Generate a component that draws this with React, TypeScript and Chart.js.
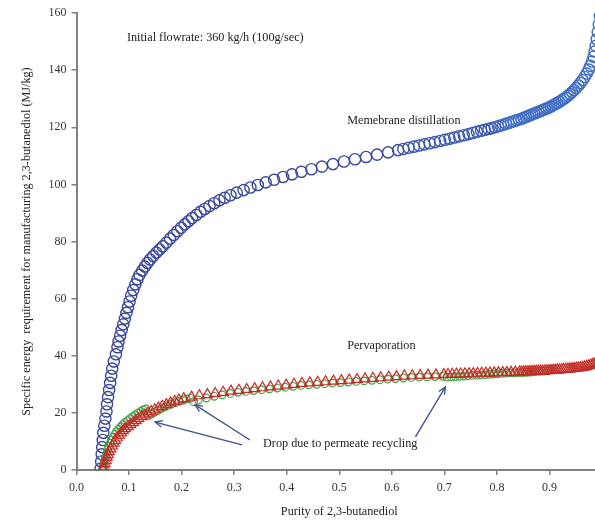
import { useEffect, useRef } from "react";
import { Chart, registerables } from "chart.js";

Chart.register(...registerables);

// Membrane distillation (blue circles)
const mdPurity = [
  0.046, 0.047, 0.048, 0.049, 0.05, 0.051, 0.053, 0.055, 0.057, 0.058, 0.06, 0.062, 0.064, 0.066, 0.068, 0.071, 0.075, 0.078, 0.08, 0.083, 0.086, 0.089,
  0.092, 0.095, 0.098, 0.101, 0.104, 0.108, 0.112, 0.116, 0.12, 0.125, 0.13, 0.135, 0.14, 0.146, 0.152, 0.158, 0.164, 0.171, 0.178, 0.185,
  0.192, 0.199, 0.206, 0.213, 0.22, 0.228, 0.236, 0.244, 0.253, 0.262, 0.272, 0.282, 0.293, 0.305, 0.318, 0.331, 0.345, 0.36, 0.376, 0.393,
  0.41, 0.428, 0.447, 0.467, 0.488, 0.509, 0.53, 0.551, 0.572, 0.593, 0.612,
  0.622, 0.632, 0.642, 0.652, 0.662, 0.672, 0.682, 0.692, 0.701, 0.71, 0.719, 0.728, 0.737, 0.746, 0.754, 0.762, 0.77, 0.777, 0.784, 0.79,
  0.796, 0.802, 0.807, 0.812, 0.817, 0.822, 0.827, 0.832, 0.837, 0.842, 0.847, 0.851, 0.855, 0.859, 0.863, 0.867, 0.871, 0.875, 0.879, 0.883,
  0.887, 0.891, 0.895, 0.899, 0.903, 0.907, 0.911, 0.915, 0.919, 0.923, 0.927, 0.931, 0.935, 0.939, 0.943, 0.947, 0.951, 0.955, 0.959, 0.963,
  0.967, 0.971, 0.975, 0.978, 0.981, 0.984, 0.986, 0.988, 0.99, 0.992, 0.994, 0.996, 0.998,
];
const mdEnergy = [
  0.5, 3, 5.5, 8, 10.5, 13, 15.5, 18, 20.5, 23, 25.5, 28, 30.5, 33, 35.5, 38, 40.5, 43, 45, 47, 49, 51,
  53, 55, 57, 59, 61, 63, 65, 66.8, 68.3, 69.8, 71.2, 72.5, 73.7, 74.9, 76.1, 77.2, 78.3, 79.6, 81, 82.3,
  83.6, 84.8, 86, 87.1, 88.2, 89.3, 90.4, 91.4, 92.4, 93.4, 94.4, 95.3, 96.2, 97.1, 98, 98.9, 99.8, 100.7, 101.6, 102.6,
  103.5, 104.4, 105.3, 106.2, 107.1, 108, 108.8, 109.6, 110.4, 111.2, 112,
  112.4, 112.8, 113.2, 113.6, 114, 114.4, 114.8, 115.2, 115.6, 116, 116.4, 116.8, 117.2, 117.6, 118, 118.4, 118.8, 119.1, 119.4, 119.7,
  120, 120.3, 120.6, 120.9, 121.2, 121.5, 121.8, 122.1, 122.4, 122.7, 123, 123.3, 123.6, 123.9, 124.2, 124.5, 124.8, 125.1, 125.4, 125.7,
  126, 126.3, 126.6, 126.9, 127.3, 127.7, 128.1, 128.5, 128.9, 129.4, 129.9, 130.4, 131, 131.6, 132.3, 133, 133.8, 134.6, 135.5, 136.5,
  137.6, 138.8, 140.2, 141.5, 143, 144.7, 146.5, 148.5, 150.8, 153.3, 156, 159, 162,
];

// Pervaporation (red triangles)
const pvPurity = [
  0.05, 0.052, 0.054, 0.056, 0.058, 0.06, 0.062, 0.065, 0.068, 0.071, 0.074, 0.077, 0.081, 0.085, 0.089, 0.093, 0.098, 0.103, 0.108, 0.113,
  0.118, 0.124, 0.13, 0.136, 0.142, 0.149, 0.156, 0.163, 0.171, 0.179, 0.187, 0.195, 0.204,
  0.219, 0.234, 0.249, 0.264, 0.279, 0.294, 0.309, 0.324, 0.339, 0.354, 0.369, 0.384, 0.399, 0.414, 0.429, 0.444, 0.459, 0.474, 0.489, 0.504,
  0.519, 0.534, 0.549, 0.564, 0.579, 0.594, 0.609, 0.624, 0.639, 0.654, 0.669, 0.684, 0.699,
  0.707, 0.715, 0.723, 0.731, 0.739, 0.747, 0.755, 0.763, 0.771, 0.779, 0.787, 0.795, 0.803, 0.811, 0.819, 0.827, 0.835, 0.843,
  0.847, 0.851, 0.855, 0.859, 0.863, 0.867, 0.871, 0.875, 0.879, 0.883, 0.887, 0.891, 0.895, 0.899, 0.903, 0.907, 0.911, 0.915, 0.919, 0.923,
  0.927, 0.931, 0.935, 0.939, 0.943, 0.947, 0.951, 0.955, 0.959, 0.963, 0.967, 0.971, 0.975, 0.979, 0.983, 0.987, 0.991, 0.995,
];
const pvEnergy = [
  0, 1.1, 2.2, 3.3, 4.4, 5.4, 6.4, 7.4, 8.4, 9.4, 10.3, 11.2, 12.1, 13, 13.8, 14.5, 15.2, 15.9, 16.6, 17.3,
  18, 18.7, 19.3, 19.9, 20.5, 21.1, 21.7, 22.3, 22.9, 23.5, 24, 24.5, 25,
  25.5, 26, 26.4, 26.8, 27.2, 27.6, 27.9, 28.2, 28.5, 28.8, 29.1, 29.4, 29.7, 30, 30.3, 30.5, 30.7, 30.9, 31.1, 31.3,
  31.5, 31.7, 31.9, 32.1, 32.3, 32.5, 32.7, 32.9, 33, 33.1, 33.2, 33.3, 33.4,
  33.45, 33.5, 33.55, 33.6, 33.65, 33.7, 33.75, 33.8, 33.85, 33.9, 33.95, 34, 34.05, 34.1, 34.15, 34.2, 34.25, 34.3,
  34.33, 34.36, 34.4, 34.43, 34.46, 34.5, 34.53, 34.56, 34.6, 34.63, 34.66, 34.7, 34.75, 34.8, 34.85, 34.9, 34.95, 35, 35.06, 35.12,
  35.18, 35.25, 35.32, 35.4, 35.48, 35.56, 35.65, 35.74, 35.84, 35.94, 36.1, 36.3, 36.5, 36.75, 37, 37.3, 37.6, 38,
];

// Pervaporation with permeate recycling (green circles)
const pvRecPurity = [
  0.049, 0.051, 0.053, 0.055, 0.057, 0.059, 0.061, 0.064, 0.067, 0.07, 0.073, 0.076, 0.08, 0.084, 0.088, 0.092, 0.097, 0.102, 0.107, 0.112,
  0.117, 0.122, 0.127, 0.132,
  0.137, 0.142, 0.148, 0.154, 0.16, 0.167, 0.174, 0.181, 0.188, 0.195, 0.202, 0.209, 0.216,
  0.223, 0.232, 0.247, 0.262, 0.277, 0.292, 0.307, 0.322, 0.337, 0.352, 0.367, 0.382, 0.397, 0.412, 0.427, 0.442, 0.457, 0.472, 0.487, 0.502,
  0.517, 0.532, 0.547, 0.562, 0.577, 0.592, 0.607, 0.622, 0.637, 0.652, 0.667, 0.682, 0.697,
  0.705, 0.713, 0.721, 0.729, 0.737, 0.745, 0.753, 0.761, 0.769, 0.777, 0.785, 0.793, 0.801, 0.809, 0.817, 0.825, 0.833, 0.841, 0.849, 0.857,
  0.865, 0.873, 0.881, 0.889, 0.897,
];
const pvRecEnergy = [
  0, 1.5, 3, 4.4, 5.7, 7, 8.2, 9.4, 10.5, 11.5, 12.5, 13.4, 14.3, 15.1, 15.9, 16.6, 17.3, 18, 18.7, 19.3,
  19.9, 20.5, 21, 21.4,
  19, 19.6, 20.2, 20.8, 21.4, 22, 22.6, 23.1, 23.6, 24, 24.4, 24.8, 25.1,
  23.9, 24.5, 25.2, 25.8, 26.3, 26.8, 27.2, 27.5, 27.8, 28.1, 28.4, 28.7, 29, 29.3, 29.6, 29.8, 30, 30.2, 30.4, 30.6,
  30.8, 31, 31.2, 31.4, 31.6, 31.8, 32, 32.2, 32.4, 32.5, 32.6, 32.7, 32.8,
  32.5, 32.6, 32.7, 32.8, 32.9, 33, 33.1, 33.2, 33.3, 33.4, 33.5, 33.6, 33.7, 33.8, 33.9, 34, 34, 34.1, 34.1, 34.2,
  34.3, 34.4, 34.5, 34.6, 34.7,
];

// Axis ranges / ticks
const xMin = 0;
const xMax = 1.0;
const xStep = 0.1;
const yMin = 0;
const yMax = 160;
const yStep = 20;

// Text notes (data coordinates)
const noteTexts = [
  "Initial flowrate: 360 kg/h (100g/sec)",
  "Memebrane distillation",
  "Pervaporation",
  "Drop due to permeate recycling",
];
const noteX = [0.096, 0.515, 0.515, 0.355];
const noteY = [151.3, 122.3, 43.4, 9.1];

// Arrows (data coordinates)
const arrowFromX = [0.315, 0.33, 0.645];
const arrowFromY = [8.8, 10.5, 11.6];
const arrowToX = [0.1495, 0.2257, 0.702];
const arrowToY = [16.8, 22.8, 29.1];

const FONT = '"Liberation Serif", "Times New Roman", serif';

function zip(xs: number[], ys: number[]) {
  const n = Math.min(xs.length, ys.length);
  const out: { x: number; y: number }[] = [];
  for (let i = 0; i < n; i++) out.push({ x: xs[i], y: ys[i] });
  return out;
}

const notesPlugin = {
  id: "notes",
  afterDatasetsDraw(chart: any) {
    const { ctx, scales } = chart;
    const xs = scales.x;
    const ys = scales.y;
    ctx.save();
    ctx.font = `12.2px ${FONT}`;
    ctx.fillStyle = "#222";
    ctx.textBaseline = "middle";
    ctx.textAlign = "left";
    noteTexts.forEach((t, i) => {
      ctx.fillText(t, xs.getPixelForValue(noteX[i]), ys.getPixelForValue(noteY[i]));
    });
    ctx.strokeStyle = "#3d4f8f";
    ctx.lineWidth = 1.3;
    arrowFromX.forEach((_, i) => {
      const x0 = xs.getPixelForValue(arrowFromX[i]);
      const y0 = ys.getPixelForValue(arrowFromY[i]);
      const x1 = xs.getPixelForValue(arrowToX[i]);
      const y1 = ys.getPixelForValue(arrowToY[i]);
      ctx.beginPath();
      ctx.moveTo(x0, y0);
      ctx.lineTo(x1, y1);
      ctx.stroke();
      const ang = Math.atan2(y1 - y0, x1 - x0);
      const L = 8;
      const a = 0.42;
      ctx.beginPath();
      ctx.moveTo(x1 - L * Math.cos(ang - a), y1 - L * Math.sin(ang - a));
      ctx.lineTo(x1, y1);
      ctx.lineTo(x1 - L * Math.cos(ang + a), y1 - L * Math.sin(ang + a));
      ctx.stroke();
    });
    ctx.restore();
  },
};

export default function App() {
  const ref = useRef<HTMLCanvasElement | null>(null);

  useEffect(() => {
    if (!ref.current) return;
    const tickFont = { family: FONT, size: 12 };
    const titleFont = { family: FONT, size: 12.2 };
    const chart = new Chart(ref.current, {
      type: "scatter",
      data: {
        datasets: [
          {
            label: "Pervaporation",
            data: zip(pvPurity, pvEnergy),
            pointStyle: "triangle",
            pointRadius: 6,
            pointBorderWidth: 1.2,
            pointBorderColor: "#c42d27",
            pointBackgroundColor: "rgba(0,0,0,0)",
            showLine: false,
          },
          {
            label: "Pervaporation (recycling)",
            data: zip(pvRecPurity, pvRecEnergy),
            pointStyle: "circle",
            pointRadius: 3.8,
            pointBorderWidth: 1.2,
            pointBorderColor: "#45a045",
            pointBackgroundColor: "rgba(0,0,0,0)",
            showLine: false,
          },
          {
            label: "Memebrane distillation",
            data: zip(mdPurity, mdEnergy),
            pointStyle: "circle",
            pointRadius: 5.6,
            pointBorderWidth: 1.4,
            pointBorderColor: (c: any) => {
              const x = c.raw ? c.raw.x : 0;
              if (x > 0.8) return "#3f6cc4";
              if (x > 0.62) return "#3b58aa";
              return "#3a4899";
            },
            pointBackgroundColor: "rgba(0,0,0,0)",
            showLine: false,
          },
        ],
      },
      options: {
        animation: false,
        responsive: false,
        maintainAspectRatio: false,
        layout: { padding: { top: 13, right: 8, left: 0, bottom: 0 } },
        plugins: {
          legend: { display: false },
          tooltip: { enabled: false },
        },
        scales: {
          x: {
            type: "linear",
            min: xMin,
            max: xMax,
            ticks: {
              stepSize: xStep,
              autoSkip: false,
              maxRotation: 0,
              padding: 6,
              color: "#333",
              font: tickFont,
              callback: (v: any) => (Number(v) > 0.95 ? "" : Number(v).toFixed(1)),
            },
            grid: {
              display: true,
              drawOnChartArea: false,
              drawTicks: true,
              tickLength: 5,
              color: "#808080",
              lineWidth: 1.5,
            },
            border: { display: true, color: "#808080", width: 2 },
            title: {
              display: true,
              text: "Purity of 2,3-butanediol",
              color: "#222",
              font: titleFont,
              padding: { top: 0, bottom: 2 },
            },
            afterFit: (s: any) => {
              s.height = 51;
            },
          },
          y: {
            type: "linear",
            min: yMin,
            max: yMax,
            ticks: {
              stepSize: yStep,
              padding: 5,
              color: "#333",
              font: tickFont,
            },
            grid: {
              display: true,
              drawOnChartArea: false,
              drawTicks: true,
              tickLength: 5,
              color: "#808080",
              lineWidth: 1.5,
            },
            border: { display: true, color: "#808080", width: 2 },
            title: {
              display: true,
              text: "Specific energy  requirement for manufacturing 2,3-butanediol (MJ/kg)",
              color: "#222",
              font: titleFont,
              padding: { top: 19, bottom: 0 },
            },
            afterFit: (s: any) => {
              s.width = 76.5;
            },
          },
        },
      },
      plugins: [notesPlugin],
    } as any);
    return () => chart.destroy();
  }, []);

  return (
    <div
      style={{
        position: "fixed",
        left: 0,
        top: 0,
        width: 595,
        height: 521,
        overflow: "hidden",
        background: "#ffffff",
      }}
    >
      <canvas ref={ref} width={610} height={521} style={{ display: "block" }} />
    </div>
  );
}
